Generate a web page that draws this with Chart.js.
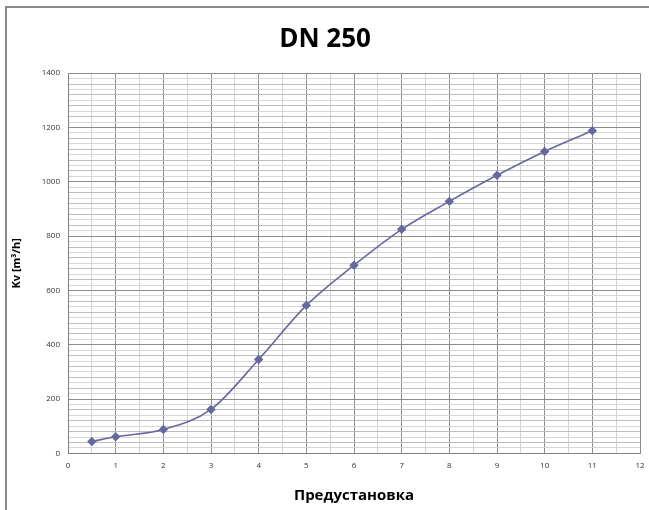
<!DOCTYPE html>
<html>
<head>
<meta charset="utf-8">
<script src="https://cdn.jsdelivr.net/npm/chart.js@4"></script>
<style>
  html, body { margin: 0; padding: 0; background: #fff; }
  #wrap { position: relative; width: 649px; height: 510px; }
  #frame { position: absolute; left: 5px; top: 6px; width: 660px; height: 520px; border-left: 2px solid #8a8a8a; border-top: 2px solid #8a8a8a; box-sizing: border-box; }
  canvas { position: absolute; left: 0; top: 0; }
</style>
</head>
<body>
<div id="wrap">
  <div id="frame"></div>
  <canvas id="kvChart" width="649" height="510"></canvas>
</div>
<script>
const presets = [0.5, 1, 2, 3, 4, 5, 6, 7, 8, 9, 10, 11];
const kvValues = [44, 61, 88, 162, 346, 545, 693, 825, 928, 1024, 1112, 1188];

const chartTitle = 'DN 250';
const xTitle = 'Предустановка';
const yTitle = 'Kv [m³/h]';

const points = presets.map((p, i) => ({ x: p, y: kvValues[i] }));

const ctx = document.getElementById('kvChart').getContext('2d');
new Chart(ctx, {
  type: 'line',
  data: {
    datasets: [{
      data: points,
      borderColor: '#6868a0',
      backgroundColor: '#6868a0',
      borderWidth: 1.6,
      pointStyle: 'rectRot',
      pointRadius: 3.6,
      cubicInterpolationMode: 'monotone',
      fill: false
    }]
  },
  options: {
    responsive: false,
    animation: false,
    layout: { padding: { left: 10, right: 9, top: 6, bottom: 5 } },
    plugins: {
      legend: { display: false },
      tooltip: { enabled: false },
      title: {
        display: true,
        text: chartTitle,
        color: '#000',
        font: { family: 'Open Sans', size: 26, weight: 'bold' },
        padding: { top: 18, bottom: 18 }
      }
    },
    scales: {
      x: {
        type: 'linear',
        min: 0,
        max: 12,
        afterFit: s => { s.paddingRight = 4; },
        border: { color: '#808080', width: 1 },
        ticks: {
          stepSize: 0.5,
          autoSkip: false,
          maxRotation: 0,
          color: '#333',
          padding: 8,
          font: { family: 'Open Sans', size: 8 },
          callback: v => Number.isInteger(v) ? v : ''
        },
        grid: {
          drawTicks: false,
          color: c => Number.isInteger(c.tick.value) ? '#8c8c8c' : '#d2d2d2',
          lineWidth: 1
        },
        title: {
          display: true,
          text: xTitle,
          color: '#000',
          font: { family: 'Open Sans', size: 15, weight: 'bold' },
          padding: { top: 8, bottom: 0 }
        }
      },
      y: {
        min: 0,
        max: 1400,
        afterFit: s => { s.width = 58; },
        border: { color: '#808080', width: 1 },
        ticks: {
          stepSize: 20,
          autoSkip: false,
          color: '#333',
          padding: 8,
          font: { family: 'Open Sans', size: 8 },
          callback: v => v % 200 === 0 ? v : ''
        },
        grid: {
          drawTicks: false,
          color: c => c.tick.value % 200 === 0 ? '#8c8c8c' : (c.tick.value % 40 === 0 ? '#bdbdbd' : '#d6d6d6'),
          lineWidth: 1
        },
        title: {
          display: true,
          text: yTitle,
          color: '#000',
          font: { family: 'Open Sans', size: 11, weight: 'bold' },
          padding: { top: 0, bottom: 3 }
        }
      }
    }
  }
});
</script>
</body>
</html>
